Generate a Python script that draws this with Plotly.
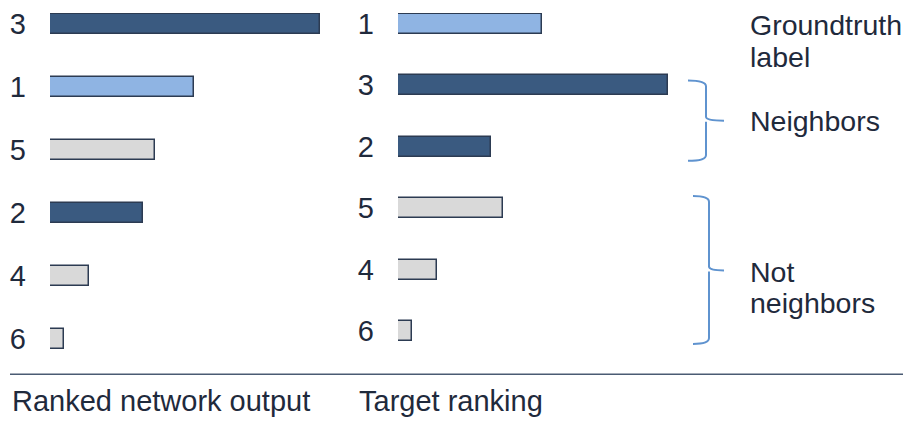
import plotly.graph_objects as go

# ---------------- data ----------------
scores = {"1": 0.48, "2": 0.31, "3": 0.90, "4": 0.13, "5": 0.35, "6": 0.045}
ranked_labels = ["3", "1", "5", "2", "4", "6"]
ranked_values = [scores[k] for k in ranked_labels]
target_labels = ["1", "3", "2", "5", "4", "6"]
target_values = [scores[k] for k in target_labels]
groundtruth = ["1"]
neighbors = ["3", "2"]
panel_titles = ["Ranked network output", "Target ranking"]
group_titles = [["Groundtruth", "label"], ["Neighbors"], ["Not", "neighbors"]]

# ---------------- style ----------------
W, H = 911, 432
OFF = 8  # page body margin
FONT = "Liberation Sans, Arial, Helvetica, sans-serif"
TXT = "#1f2a3c"
DARK = "#3a5a80"
LIGHT = "#8fb4e3"
GREY = "#d9d9d9"
EDGE = "#2c3b52"
BRACE = "#5f93cf"
FS = 29
FS_SIDE = 28.5


def color_of(lbl):
    if lbl in groundtruth:
        return LIGHT
    if lbl in neighbors:
        return DARK
    return GREY


def px(x):
    return (x - OFF) / W


def py(y):
    return 1 - (y - OFF) / H


fig = go.Figure()

fig.add_trace(go.Bar(
    x=ranked_values, y=ranked_labels, orientation="h",
    marker=dict(color=[color_of(l) for l in ranked_labels],
                line=dict(color=EDGE, width=1.5)),
    width=0.31, xaxis="x", yaxis="y", showlegend=False, hoverinfo="skip"))

fig.add_trace(go.Bar(
    x=target_values, y=target_labels, orientation="h",
    marker=dict(color=[color_of(l) for l in target_labels],
                line=dict(color=EDGE, width=1.5)),
    width=0.318, xaxis="x2", yaxis="y2", showlegend=False, hoverinfo="skip"))

xmax = max(scores.values())
common_x = dict(range=[0, xmax], showgrid=False, zeroline=False,
                showline=False, showticklabels=False, ticks="", fixedrange=True)
common_y = dict(type="category", showgrid=False, zeroline=False, showline=False,
                ticks="", ticklabelstandoff=23,
                tickfont=dict(size=FS, color=TXT, family=FONT))

s1, s2 = 64.4, 62.8
n = len(ranked_labels) - 1
fig.update_layout(
    width=W, height=H,
    margin=dict(l=0, r=0, t=0, b=0),
    paper_bgcolor="white", plot_bgcolor="white",
    font=dict(family=FONT, color=TXT, size=FS),
    bargap=0,
    xaxis=dict(domain=[px(50), px(320)], anchor="y", **common_x),
    xaxis2=dict(domain=[px(398), px(668)], anchor="y2", **common_x),
    yaxis=dict(domain=[py(353), py(8)], anchor="x",
               range=[n + 12 / s1, -11 / s1], **common_y),
    yaxis2=dict(domain=[py(345), py(8)], anchor="x2",
                range=[n + 12 / s2, -11 / s2], **common_y),
)

# bottom rule
fig.add_shape(type="line", xref="paper", yref="paper",
              x0=px(10), x1=px(905), y0=py(377), y1=py(377),
              line=dict(color="#4a5b73", width=1.5))

# panel titles
for title, x in zip(panel_titles, [10, 357]):
    fig.add_annotation(text=title, xref="paper", yref="paper",
                       x=px(x), y=py(404), xanchor="left", yanchor="middle",
                       showarrow=False, font=dict(size=FS, color=TXT, family=FONT))

# group titles on the right (one annotation per line)
line_y = [[20, 53], [118], [272, 304]]
for lines, ys in zip(group_titles, line_y):
    for txt, y in zip(lines, ys):
        fig.add_annotation(text=txt, xref="paper", yref="paper",
                           x=px(748), y=py(y), xanchor="left", yanchor="middle",
                           align="left", showarrow=False,
                           font=dict(size=FS_SIDE, color=TXT, family=FONT))


def brace(x0, xv, xt, ytop, ymid, ybot):
    pts = [
        f"M {px(x0)},{py(ytop)}",
        f"Q {px(xv)},{py(ytop)} {px(xv)},{py(ytop + 6)}",
        f"L {px(xv)},{py(ymid - 4)}",
        f"Q {px(xv)},{py(ymid)} {px(xt)},{py(ymid)}",
        f"M {px(xv)},{py(ymid + 1)}",
        f"Q {px(xv)},{py(ymid + 2)} {px(xv)},{py(ymid + 6)}",
        f"L {px(xv)},{py(ybot - 6)}",
        f"Q {px(xv)},{py(ybot)} {px(x0)},{py(ybot)}",
    ]
    return " ".join(pts)


fig.add_shape(type="path", xref="paper", yref="paper",
              path=brace(688, 706, 724, 77, 118, 159),
              line=dict(color=BRACE, width=2))
fig.add_shape(type="path", xref="paper", yref="paper",
              path=brace(693, 709, 724, 195, 271, 346),
              line=dict(color=BRACE, width=2))

fig.write_html("out.html")
